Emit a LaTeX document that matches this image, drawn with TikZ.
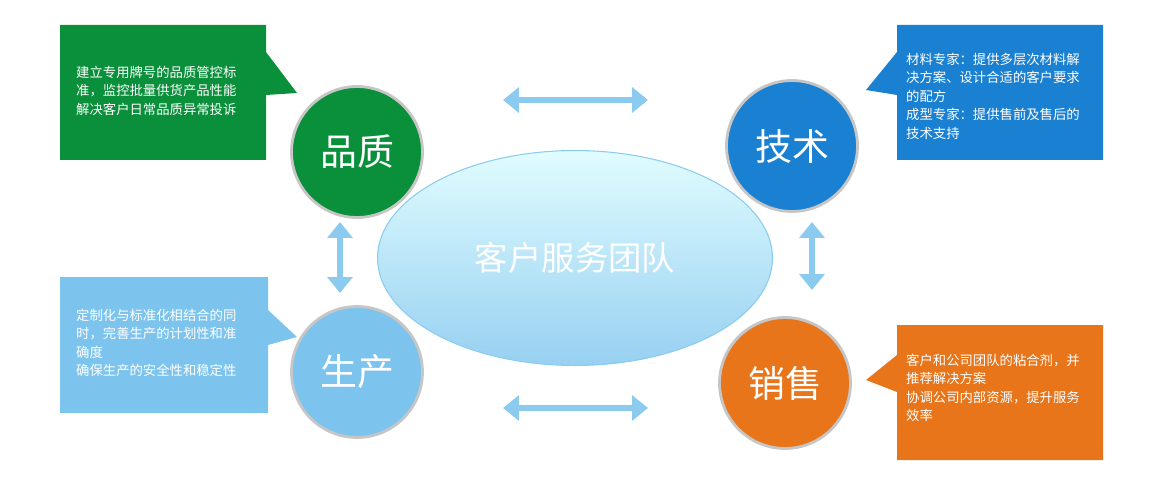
\documentclass[tikz,border=0pt]{standalone}
\usepackage{fontspec}
\setmainfont{Noto Sans CJK SC}
\usetikzlibrary{arrows.meta,shadings,shapes.geometric}
\definecolor{qgreen}{HTML}{0A8F3A}
\definecolor{tblue}{HTML}{1A80D2}
\definecolor{slight}{HTML}{7CC4EE}
\definecolor{xorange}{HTML}{E8751A}
\definecolor{arrowblue}{HTML}{8CCBF0}
\tikzset{
  topic/.style={circle,draw=gray!45,line width=1.6pt,minimum size=2.62cm,
    text=white,font=\fontsize{21}{24}\selectfont},
  note/.style={text=white,font=\fontsize{7.6}{10.5}\selectfont,align=left,anchor=north west},
  link/.style={{Triangle[length=9pt,width=14pt]}-{Triangle[length=9pt,width=14pt]},draw=arrowblue,line width=3.6pt}
}
\begin{document}
\begin{tikzpicture}[x=0.02cm,y=-0.02cm]
\useasboundingbox (0,0) rectangle (1170,500);
% callout boxes
\fill[qgreen] (60,25) -- (266,25) -- (266,52) -- (297,93) -- (266,95) -- (266,160) -- (60,160) -- cycle;
\fill[tblue] (1103,25) -- (897,25) -- (897,52) -- (866,90) -- (897,95) -- (897,160) -- (1103,160) -- cycle;
\fill[slight] (60,277) -- (268,277) -- (268,310) -- (297,337) -- (268,345) -- (268,413) -- (60,413) -- cycle;
\fill[xorange] (1103,325) -- (897,325) -- (897,355) -- (866,380) -- (897,392) -- (897,460) -- (1103,460) -- cycle;
\node[note] (tq) at (70,60) {建立专用牌号的品质管控标\\准，监控批量供货产品性能\\解决客户日常品质异常投诉};
\node[note] (tt) at (900,47) {材料专家：提供多层次材料解\\决方案、设计合适的客户要求\\的配方\\成型专家：提供售前及售后的\\技术支持};
\node[note] (ts) at (70,303) {定制化与标准化相结合的同\\时，完善生产的计划性和准\\确度\\确保生产的安全性和稳定性};
\node[note] (tx) at (900,348) {客户和公司团队的粘合剂，并\\推荐解决方案\\协调公司内部资源，提升服务\\效率};
% center
\node[ellipse,draw=arrowblue,line width=0.6pt,top color=blue!8!cyan!12,bottom color=arrowblue!90,
  minimum width=7.9cm,minimum height=4.3cm,text=white,font=\fontsize{19}{22}\selectfont,inner sep=0pt]
  (team) at (575,258) {客户服务团队};
\node[topic,fill=qgreen] (qual) at (357,152) {品质};
\node[topic,fill=tblue] (tech) at (792,146) {技术};
\node[topic,fill=slight] (prod) at (357,372) {生产};
\node[topic,fill=xorange] (sale) at (785,383) {销售};
% links
\coordinate (h1a) at (503,100); \coordinate (h1b) at (648,100);
\coordinate (h2a) at (503,408); \coordinate (h2b) at (648,408);
\coordinate (v1a) at (340,222); \coordinate (v1b) at (340,293);
\coordinate (v2a) at (812,222); \coordinate (v2b) at (812,290);
\draw[link] (h1a) -- (h1b);
\draw[link] (h2a) -- (h2b);
\draw[link] (v1a) -- (v1b);
\draw[link] (v2a) -- (v2b);
\end{tikzpicture}
\end{document}
